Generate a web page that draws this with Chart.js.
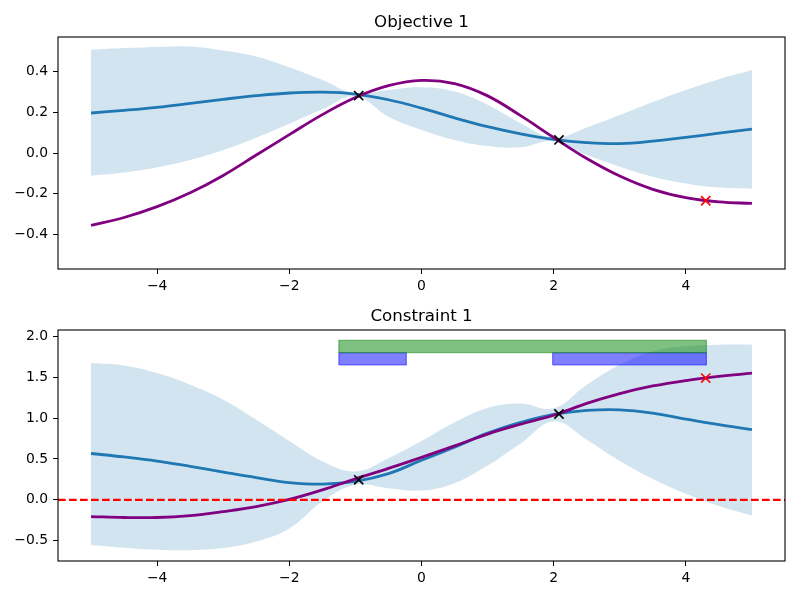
<!DOCTYPE html>
<html>
<head>
<meta charset="utf-8">
<script src="https://cdn.jsdelivr.net/npm/chart.js@4"></script>
<style>
  html, body { margin: 0; padding: 0; background: #fff; }
  .wrap { position: absolute; left: 0; width: 800px; height: 300px; }
  #w1 { top: 0; }
  #w2 { top: 300px; }
</style>
</head>
<body>
<div class="wrap" id="w1"><canvas id="c1" width="800" height="300"></canvas></div>
<div class="wrap" id="w2"><canvas id="c2" width="800" height="300"></canvas></div>
<script>
// ---------- data ----------
const xs = [-5,-4.5,-4,-3.5,-3,-2.5,-2,-1.5,-1,-0.5,0,0.5,1,1.5,2,2.5,3,3.5,4,4.5,5];

// Objective 1
const objTitle = "Objective 1";
const objMean  = [0.196,0.209,0.224,0.243,0.263,0.281,0.294,0.298,0.289,0.261,0.220,0.172,0.129,0.094,0.067,0.051,0.046,0.058,0.077,0.097,0.117];
const objUpper = [0.506,0.514,0.520,0.522,0.502,0.473,0.420,0.358,0.292,0.309,0.322,0.301,0.236,0.146,0.075,0.125,0.186,0.250,0.309,0.362,0.407];
const objLower = [-0.111,-0.096,-0.070,-0.034,0.015,0.075,0.143,0.214,0.278,0.178,0.113,0.064,0.034,0.028,0.058,-0.010,-0.067,-0.116,-0.149,-0.169,-0.175];
const objTrue  = [-0.355,-0.316,-0.263,-0.195,-0.110,-0.010,0.090,0.188,0.272,0.330,0.356,0.340,0.280,0.183,0.076,-0.027,-0.113,-0.178,-0.219,-0.240,-0.247];
const objObsX = [-0.95, 2.08];
const objObsY = [0.281, 0.064];
const objCandX = [4.30];
const objCandY = [-0.234];
const objTicksY = [-0.4,-0.2,0.0,0.2,0.4];
const objRangeY = [-0.5685, 0.5685];

// Constraint 1
const conTitle = "Constraint 1";
const conMean  = [0.567,0.525,0.475,0.410,0.340,0.272,0.212,0.192,0.225,0.320,0.485,0.645,0.816,0.947,1.045,1.094,1.102,1.061,0.988,0.919,0.858];
const conUpper = [1.674,1.645,1.551,1.408,1.225,0.980,0.720,0.471,0.347,0.510,0.720,0.950,1.125,1.180,1.120,1.408,1.653,1.816,1.878,1.898,1.898];
const conLower = [-0.551,-0.585,-0.610,-0.615,-0.590,-0.510,-0.350,-0.020,0.184,0.143,0.114,0.204,0.420,0.690,0.960,0.735,0.475,0.255,0.075,-0.075,-0.192];
const conTrue  = [-0.204,-0.216,-0.216,-0.192,-0.143,-0.082,0.005,0.122,0.257,0.385,0.520,0.660,0.805,0.925,1.035,1.180,1.300,1.393,1.460,1.510,1.550];
const conObsX = [-0.95, 2.08];
const conObsY = [0.245, 1.050];
const conCandX = [4.30];
const conCandY = [1.490];
const conThreshold = 0.0;
const conTicksY = [-0.5,0.0,0.5,1.0,1.5,2.0];
const conRangeY = [-0.748, 2.078];

// feasibility spans (x-intervals) and their y levels
const greenSpans = [[-1.25, 4.31]];
const greenLevel = [1.80, 1.95];
const blueSpans  = [[-1.25, -0.23], [1.985, 4.31]];
const blueLevel  = [1.65, 1.80];

const xTicks = [-4,-2,0,2,4];
const xRange = [-5.5, 5.5];

// ---------- helpers ----------
const C0 = '#1f77b4';
const BAND = 'rgba(31,119,180,0.2)';
const FONT = 'DejaVu Sans';
Chart.defaults.font.family = FONT;
Chart.defaults.color = '#000';

function pts(ys) { return xs.map((x, i) => ({x: x, y: ys[i]})); }
function pairs(ax, ay) { return ax.map((x, i) => ({x: x, y: ay[i]})); }
function rect(span, lev) {
  return [{x: span[0], y: lev[0]}, {x: span[1], y: lev[0]}, {x: span[1], y: lev[1]}, {x: span[0], y: lev[1]}, {x: span[0], y: lev[0]}];
}
function fmt(v, d) {
  const s = d === 0 ? String(Math.round(v)) : Number(v).toFixed(d);
  return s.replace('-', '\u2212');
}

const frame = {
  id: 'frame',
  afterDraw(chart) {
    const a = chart.chartArea, ctx = chart.ctx;
    ctx.save();
    ctx.strokeStyle = '#000';
    ctx.lineWidth = 1.1;
    ctx.strokeRect(a.left, a.top, a.right - a.left, a.bottom - a.top);
    ctx.restore();
  }
};

function lineDs(ys, color, order) {
  return { data: pts(ys), showLine: true, borderColor: color, borderWidth: 2.8, pointRadius: 0, tension: 0.4, fill: false, order: order };
}
function bandDs(upper, lower) {
  return [
    { data: pts(upper), showLine: true, borderWidth: 0, borderColor: 'rgba(0,0,0,0)', pointRadius: 0, tension: 0.4, fill: '+1', backgroundColor: BAND, order: 10 },
    { data: pts(lower), showLine: true, borderWidth: 0, borderColor: 'rgba(0,0,0,0)', pointRadius: 0, tension: 0.4, fill: false, order: 10 }
  ];
}
function markerDs(ax, ay, color, order) {
  return { data: pairs(ax, ay), showLine: false, pointStyle: 'crossRot', pointRadius: 6.5, pointBorderColor: color, pointBorderWidth: 1.6, pointBackgroundColor: color, order: order };
}

function makeOptions(title, titlePad, xHeight, yTicks, yRange) {
  return {
    responsive: false,
    animation: false,
    events: [],
    layout: { padding: { left: 0, right: 15, top: 0, bottom: 0 } },
    plugins: {
      legend: { display: false },
      tooltip: { enabled: false },
      title: { display: true, text: title, fullSize: false, color: '#000',
               font: { family: FONT, size: 16.67, weight: 'normal', lineHeight: 1.2 },
               padding: titlePad }
    },
    scales: {
      x: {
        type: 'linear', min: xRange[0], max: xRange[1],
        afterBuildTicks: s => { s.ticks = xTicks.map(v => ({value: v})); },
        afterFit: s => { s.height = xHeight; },
        grid: { drawOnChartArea: false, drawTicks: true, tickLength: 5, color: '#000', lineWidth: 1 },
        border: { display: false },
        ticks: { font: { family: FONT, size: 13.9 }, color: '#000', padding: 4, maxRotation: 0,
                 callback: v => fmt(v, 0) }
      },
      y: {
        type: 'linear', min: yRange[0], max: yRange[1],
        afterBuildTicks: s => { s.ticks = yTicks.map(v => ({value: v})); },
        afterFit: s => { s.width = 58; },
        grid: { drawOnChartArea: false, drawTicks: true, tickLength: 5, color: '#000', lineWidth: 1 },
        border: { display: false },
        ticks: { font: { family: FONT, size: 13.9 }, color: '#000', padding: 5,
                 callback: v => fmt(v, 1) }
      }
    }
  };
}

// ---------- chart 1 ----------
new Chart(document.getElementById('c1'), {
  type: 'scatter',
  data: { datasets: [
    ...bandDs(objUpper, objLower),
    lineDs(objMean, C0, 4),
    lineDs(objTrue, 'purple', 3),
    markerDs(objObsX, objObsY, '#000', 1),
    markerDs(objCandX, objCandY, 'red', 0)
  ]},
  options: makeOptions(objTitle, { top: 12.5, bottom: 4.5 }, 31, objTicksY, objRangeY),
  plugins: [frame]
});

// ---------- chart 2 ----------
const rectSets = [];
greenSpans.forEach(sp => rectSets.push({ data: rect(sp, greenLevel), showLine: true, tension: 0, pointRadius: 0,
  borderColor: 'rgba(0,128,0,0.5)', borderWidth: 1.2, backgroundColor: 'rgba(0,128,0,0.5)', fill: 'shape', order: 0.5 }));
blueSpans.forEach(sp => rectSets.push({ data: rect(sp, blueLevel), showLine: true, tension: 0, pointRadius: 0,
  borderColor: 'rgba(0,0,255,0.5)', borderWidth: 1.2, backgroundColor: 'rgba(0,0,255,0.5)', fill: 'shape', order: 0.5 }));

new Chart(document.getElementById('c2'), {
  type: 'scatter',
  data: { datasets: [
    ...bandDs(conUpper, conLower),
    lineDs(conMean, C0, 4),
    lineDs(conTrue, 'purple', 3),
    { data: [{x: xRange[0], y: conThreshold}, {x: xRange[1], y: conThreshold}], showLine: true, borderColor: 'red',
      borderWidth: 2.1, borderDash: [7.7, 3.3], pointRadius: 0, fill: false, order: 2 },
    ...rectSets,
    markerDs(conObsX, conObsY, '#000', 1),
    markerDs(conCandX, conCandY, 'red', 0)
  ]},
  options: makeOptions(conTitle, { top: 6.5, bottom: 3.5 }, 39, conTicksY, conRangeY),
  plugins: [frame]
});
</script>
</body>
</html>
